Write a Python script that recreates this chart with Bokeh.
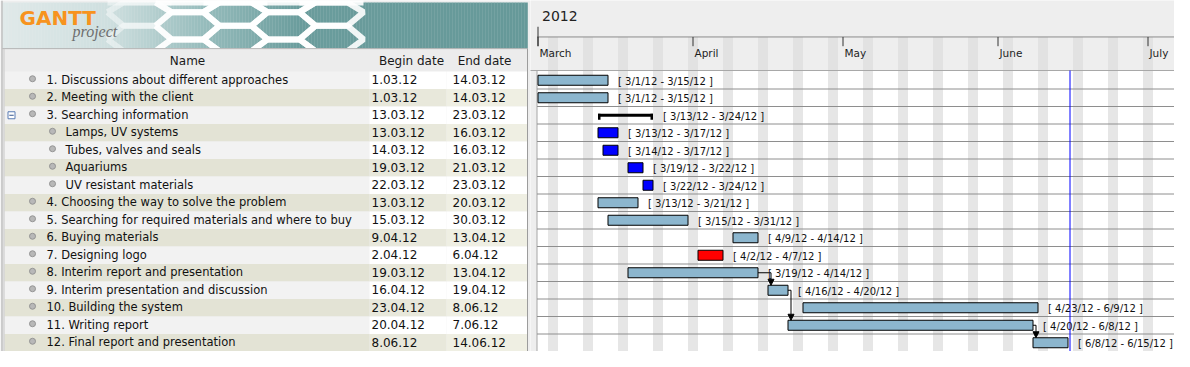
import numpy as np
import pandas as pd
from bokeh.plotting import figure
from bokeh.models import Range1d, ColumnDataSource, Arrow, NormalHead
from bokeh.layouts import row
from bokeh.embed import file_html
from bokeh.resources import INLINE
from bokeh.core.properties import value

# ---------------- data ----------------
names = ["1. Discussions about different approaches", "2. Meeting with the client",
         "3. Searching information", "Lamps, UV systems", "Tubes, valves and seals",
         "Aquariums", "UV resistant materials", "4. Choosing the way to solve the problem",
         "5. Searching for required materials and where to buy", "6. Buying materials",
         "7. Designing logo", "8. Interim report and presentation",
         "9. Interim presentation and discussion", "10. Building the system",
         "11. Writing report", "12. Final report and presentation"]
levels = [0, 0, 0, 1, 1, 1, 1, 0, 0, 0, 0, 0, 0, 0, 0, 0]
begin_dates = ["1.03.12", "1.03.12", "13.03.12", "13.03.12", "14.03.12", "19.03.12", "22.03.12",
               "13.03.12", "15.03.12", "9.04.12", "2.04.12", "19.03.12", "16.04.12", "23.04.12",
               "20.04.12", "8.06.12"]
end_dates = ["14.03.12", "14.03.12", "23.03.12", "16.03.12", "16.03.12", "21.03.12", "23.03.12",
             "20.03.12", "30.03.12", "13.04.12", "6.04.12", "13.04.12", "19.04.12", "8.06.12",
             "7.06.12", "14.06.12"]
bar_starts = ["2012-03-01", "2012-03-01", "2012-03-13", "2012-03-13", "2012-03-14", "2012-03-19",
              "2012-03-22", "2012-03-13", "2012-03-15", "2012-04-09", "2012-04-02", "2012-03-19",
              "2012-04-16", "2012-04-23", "2012-04-20", "2012-06-08"]
bar_ends = ["2012-03-15", "2012-03-15", "2012-03-24", "2012-03-17", "2012-03-17", "2012-03-22",
            "2012-03-24", "2012-03-21", "2012-03-31", "2012-04-14", "2012-04-07", "2012-04-14",
            "2012-04-20", "2012-06-09", "2012-06-08", "2012-06-15"]
task_kind = ["task", "task", "summary", "sub", "sub", "sub", "sub", "task", "task", "task",
             "red", "task", "task", "task", "task", "task"]
dependencies = [(11, 12), (12, 14), (14, 15)]
months = ["March", "April", "May", "June", "July"]
month_starts = ["2012-03-01", "2012-04-01", "2012-05-01", "2012-06-01", "2012-07-01"]
year_label = "2012"
today = "2012-06-15 09:36"
column_titles = ["Name", "Begin date", "End date"]

# ---------------- styles / geometry ----------------
FONT = "DejaVu Sans"
H = 351
SY = 351.0 / 361.0          # vertical squeeze so the last row fits
P = 17.5                    # px per row
Y0 = 79.75                  # screen y of row 0 centre
def ry(py):                 # layout y (in reference px) -> row units
    return (py * SY - Y0) / P

W_L, W_R = 530, 644
n = len(names)
idx = np.arange(n)
YR = (ry(361), ry(0))

# ================= left: task table =================
L = figure(width=W_L, height=H, x_range=Range1d(0, 530), y_range=Range1d(*YR),
           x_axis_type=None, y_axis_type=None, toolbar_location=None,
           output_backend="svg", min_border=0)
L.outline_line_color = None
L.background_fill_color = "#eeeeee"
L.border_fill_color = "#eeeeee"

# banner gradient
gx = np.arange(2, 527, 3.0)
stops_x = [2, 110, 200, 300, 527]
stops_c = np.array([(224, 233, 233), (206, 223, 223), (152, 189, 189), (106, 156, 156), (102, 153, 153)])
gcols = ["#%02x%02x%02x" % tuple(int(round(np.interp(x + 1.5, stops_x, stops_c[:, k]))) for k in range(3))
         for x in gx]
L.quad(left=gx, right=gx + 3.3, top=ry(2), bottom=ry(49.5), fill_color=gcols, line_color=None)

# honeycomb
hx, hy, ha = [], [], []
A, HH = 32, 14
CS = 1.5 * A
for k in range(-2, 3):
    cx = 235 + CS * k
    base = 12 if k % 2 == 0 else 26
    for m in range(-1, 2):
        cy = base + 2 * HH * m
        xs = [cx - A, cx - A / 2, cx + A / 2, cx + A, cx + A / 2, cx - A / 2, cx - A]
        ys = [cy, cy - HH, cy - HH, cy, cy + HH, cy + HH, cy]
        hx.append(xs)
        hy.append([ry(min(52, max(2, v))) for v in ys])
        ha.append({-2: 0.45}.get(k, 0.9))
L.multi_line(xs="xs", ys="ys", line_alpha="a", source=ColumnDataSource(dict(xs=hx, ys=hy, a=ha)),
             line_color="white", line_width=6)

# logo
L.text(x=[19], y=[ry(18)], text=["GANTT"], text_font=value(FONT), text_font_style="bold",
       text_font_size="20px", text_color="#f7931e", text_baseline="middle")
L.text(x=[72], y=[ry(32)], text=["project"], text_font=value("Liberation Serif"),
       text_font_style="italic", text_font_size="16px", text_color="#6e6e6e", text_baseline="middle")

# header
L.quad(left=2, right=527, top=ry(49.5), bottom=ry(73), fill_color="#ececec", line_color=None)
L.segment(x0=2, x1=527, y0=ry(49.5), y1=ry(49.5), line_color="#b4b4b4")
L.text(x=[187, 411, 484], y=[ry(62)] * 3, text=column_titles, text_font=value(FONT),
       text_font_size="12px", text_color="#1a1a1a", text_align="center", text_baseline="middle")

# rows
name_bg = ["#f2f2f2" if i % 2 == 0 else "#e3e3d5" for i in idx]
beg_bg = ["#ffffff" if i % 2 == 0 else "#e8e8db" for i in idx]
end_bg = ["#ffffff" if i % 2 == 0 else "#efefe3" for i in idx]
L.quad(left=4, right=369, top=idx - 0.5, bottom=idx + 0.5, fill_color=name_bg, line_color=None)
L.quad(left=369, right=446, top=idx - 0.5, bottom=idx + 0.5, fill_color=beg_bg, line_color=None)
L.quad(left=446, right=527, top=idx - 0.5, bottom=idx + 0.5, fill_color=end_bg, line_color=None)

# window border on the left
L.segment(x0=1.5, x1=1.5, y0=ry(0), y1=ry(361), line_color="#a9a9a9")
L.segment(x0=3.5, x1=3.5, y0=ry(49.5), y1=ry(361), line_color="#c8c8c8")

bullet_x = [32 if lv == 0 else 52 for lv in levels]
name_x = [46 if lv == 0 else 65 for lv in levels]
L.scatter(x=bullet_x, y=idx - 1.5 / P, size=6, fill_color="#b8b8b8", line_color="#949494")
txt_y = idx - 0.5 / P
L.text(x=name_x, y=txt_y, text=names, text_font=value(FONT), text_font_size="11.5px",
       text_color="#111111", text_baseline="middle")
L.text(x=371, y=txt_y, text=begin_dates, text_font=value(FONT), text_font_size="12px",
       text_color="#111111", text_baseline="middle")
L.text(x=452, y=txt_y, text=end_dates, text_font=value(FONT), text_font_size="12px",
       text_color="#111111", text_baseline="middle")

# collapse icon for summary rows
srows = [i for i in idx if task_kind[i] == "summary"]
L.rect(x=[11] * len(srows), y=srows, width=7, height=7 / P, fill_color="white", line_color="#5a7db5")
L.segment(x0=[8.8] * len(srows), x1=[13.2] * len(srows), y0=srows, y1=srows, line_color="#33558f")

# splitter border
L.quad(left=527.5, right=531, top=ry(49.5), bottom=ry(365), fill_color="#eeeeee", line_color=None)
L.segment(x0=527, x1=527, y0=ry(49.5), y1=ry(365), line_color="#9c9c9c")

# ================= right: gantt chart =================
def ms(t):
    return pd.Timestamp(t).value / 1e6
DAY = 86400000.0
X0, PX0, PXD = ms("2012-03-01"), 537.5, 5.0
def rx(px):
    return X0 + (px - PX0) / PXD * DAY

R = figure(width=W_R, height=H, x_range=Range1d(rx(530), rx(1174)), y_range=Range1d(*YR),
           x_axis_type=None, y_axis_type=None, toolbar_location=None,
           output_backend="svg", min_border=0)
R.outline_line_color = None
R.background_fill_color = "white"
R.border_fill_color = "white"

# header background
R.quad(left=rx(520), right=rx(1200), top=ry(-5), bottom=ry(72), fill_color="#eeeeee", line_color=None)

# weekends
days = pd.date_range("2012-02-25", "2012-07-20")
wk = [ms(d) for d in days if d.weekday() >= 5]
wk_r = [w + DAY for w in wk]
R.quad(left=wk, right=wk_r, top=ry(37.5), bottom=ry(72), fill_color="#e2e2e2", line_color=None)
R.quad(left=wk, right=wk_r, top=ry(72), bottom=ry(365), fill_color="#e6e6e6", line_color=None)

# splitter
R.quad(left=rx(520), right=rx(536.5), top=ry(72), bottom=ry(365), fill_color="#eeeeee", line_color=None)
R.segment(x0=rx(536.5), x1=rx(536.5), y0=ry(72), y1=ry(365), line_color="#a6a6a6")

# timeline header
R.segment(x0=rx(536.5), x1=rx(1200), y0=ry(37.5), y1=ry(37.5), line_color="#8c8c8c")
R.segment(x0=rx(528), x1=rx(1200), y0=ry(72), y1=ry(72), line_color="#a8a8a8")
mx = [ms(m) for m in month_starts]
R.segment(x0=mx, x1=mx, y0=ry(37.5), y1=ry(47), line_color="#333333")
R.segment(x0=mx[0], x1=mx[0], y0=ry(27), y1=ry(47), line_color="#333333")
R.text(x=mx, y=ry(53.5), x_offset=1.5, text=months, text_font=value(FONT), text_font_size="10.5px",
       text_color="#1e1e1e", text_baseline="middle")
R.text(x=[mx[0]], y=[ry(16)], x_offset=4, text=[year_label], text_font=value(FONT),
       text_font_size="14px", text_color="#222222", text_baseline="middle")

# row lines
R.segment(x0=rx(536.5), x1=rx(1200), y0=idx + 0.5, y1=idx + 0.5, line_color="#8e8e8e")

# today line
R.segment(x0=ms(today), x1=ms(today), y0=ry(72), y1=ry(365), line_color="#0000ff")

# bars
s_ms = np.array([ms(s) for s in bar_starts])
e_ms = np.array([ms(e) for e in bar_ends])
fill_map = {"task": "#8cb6ce", "sub": "#0000ff", "red": "#ff0000"}
bi = [i for i in idx if task_kind[i] != "summary"]
R.quad(left=s_ms[bi], right=e_ms[bi], top=np.array(bi) - 5 / P, bottom=np.array(bi) + 5 / P,
       fill_color=[fill_map[task_kind[i]] for i in bi], line_color="black", line_width=1)
for i in srows:
    R.quad(left=s_ms[i], right=e_ms[i], top=i - 1.5 / P, bottom=i + 1.5 / P,
           fill_color="black", line_color=None)
    R.quad(left=[s_ms[i], e_ms[i] - 0.5 * DAY], right=[s_ms[i] + 0.5 * DAY, e_ms[i]],
           top=i - 1.5 / P, bottom=i + 4.5 / P, fill_color="black", line_color=None)

# dependencies
for a, b in dependencies:
    xa = e_ms[a]
    xb = s_ms[b] + 3 / PXD * DAY
    R.segment(x0=xa, x1=xb, y0=a, y1=a, line_color="black")
    R.add_layout(Arrow(end=NormalHead(size=6, fill_color="black", line_color="black", line_width=1),
                       x_start=xb, y_start=a, x_end=xb, y_end=b - 5 / P,
                       line_color="black", line_width=1))

# labels
def fmt(t):
    t = pd.Timestamp(t)
    return "%d/%d/%s" % (t.month, t.day, t.strftime("%y"))
labels = ["[ %s - %s ]" % (fmt(s), fmt(e)) for s, e in zip(bar_starts, bar_ends)]
R.text(x=e_ms, y=idx + 0.8 / P, x_offset=10, text=labels, text_font=value(FONT),
       text_font_size="10px", text_color="#111111", text_baseline="middle")

layout = row(L, R)
open("out.html", "w").write(file_html(layout, INLINE))
